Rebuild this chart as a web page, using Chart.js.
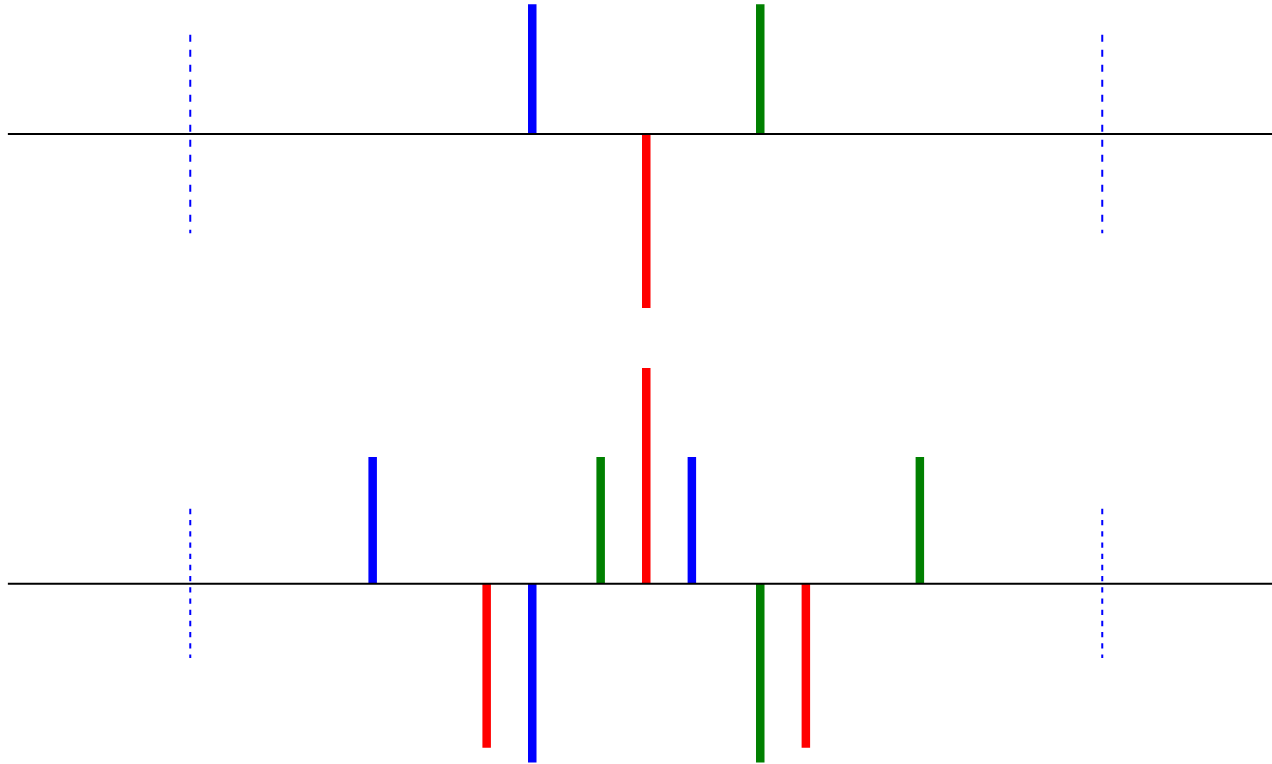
<!DOCTYPE html>
<html>
<head>
<meta charset="utf-8">
<script src="https://cdn.jsdelivr.net/npm/chart.js@4/dist/chart.umd.min.js"></script>
<style>
  html, body { margin: 0; padding: 0; background: #fff; }
  #wrap { position: relative; width: 1272px; height: 764px; overflow: hidden; }
  canvas { position: absolute; left: 0; }
  #topChart { top: 0; }
  #bottomChart { top: 340px; }
</style>
</head>
<body>
<div id="wrap">
  <canvas id="topChart" width="1272" height="340"></canvas>
  <canvas id="bottomChart" width="1272" height="424"></canvas>
</div>
<script>
// --- DATA (stem positions and heights) ---
const topBlueX = [-1];
const topBlueY = [2.98];
const topRedX = [0];
const topRedY = [-4.0];
const topGreenX = [1];
const topGreenY = [2.98];

const bottomBlueX = [-2.4, -1, 0.4];
const bottomBlueY = [2.91, -4.11, 2.91];
const bottomRedX = [-1.4, 0, 1.4];
const bottomRedY = [-3.77, 4.96, -3.77];
const bottomGreenX = [-0.4, 1, 2.4];
const bottomGreenY = [2.91, -4.11, 2.91];

// dashed marker lines and how far they reach above / below the baseline
const markerX = [-4, 4];
const topMarkerReach = [2.28, -2.28];
const bottomMarkerReach = [1.72, -1.71];

// baseline extent
const baselineX = [-5.6, 5.6];

// --- THEME ---
const COLORS = {
    blue: '#0000ff',
    red: '#ff0000',
    green: '#008000',
    black: '#000000'
};

// stems joined into one dataset per colour, split by null gaps
function stemPoints(xs, ys) {
    const pts = [];
    xs.forEach((x, i) => {
        pts.push({ x: x, y: 0 }, { x: x, y: ys[i] }, { x: x, y: null });
    });
    return pts;
}

function markerPoints(xs, reach) {
    const pts = [];
    xs.forEach(x => {
        pts.push({ x: x, y: reach[0] }, { x: x, y: reach[1] }, { x: x, y: null });
    });
    return pts;
}

function stemSet(xs, ys, color) {
    return {
        data: stemPoints(xs, ys),
        borderColor: color,
        borderWidth: 8.5,
        borderCapStyle: 'butt',
        pointRadius: 0,
        showLine: true,
        spanGaps: false,
        order: 2
    };
}

function makeChart(ctx, stems, reach, dash, yMin, yMax) {
    const datasets = [
        {
            data: markerPoints(markerX, reach),
            borderColor: COLORS.blue,
            borderWidth: 2,
            borderDash: dash,
            pointRadius: 0,
            showLine: true,
            spanGaps: false,
            order: 0
        },
        {
            data: baselineX.map(x => ({ x: x, y: 0 })),
            borderColor: COLORS.black,
            borderWidth: 2,
            pointRadius: 0,
            showLine: true,
            order: 1
        }
    ].concat(stems);

    return new Chart(ctx, {
        type: 'scatter',
        data: { datasets: datasets },
        options: {
            responsive: false,
            animation: false,
            devicePixelRatio: 1,
            layout: { padding: 0 },
            scales: {
                x: { type: 'linear', display: false, min: -5.669, max: 5.489 },
                y: { type: 'linear', display: false, min: yMin, max: yMax }
            },
            plugins: { legend: { display: false }, tooltip: { enabled: false } }
        }
    });
}

makeChart(
    document.getElementById('topChart').getContext('2d'),
    [
        stemSet(topBlueX, topBlueY, COLORS.blue),
        stemSet(topRedX, topRedY, COLORS.red),
        stemSet(topGreenX, topGreenY, COLORS.green)
    ],
    topMarkerReach, [7, 8], -4.736, 3.08
);

makeChart(
    document.getElementById('bottomChart').getContext('2d'),
    [
        stemSet(bottomBlueX, bottomBlueY, COLORS.blue),
        stemSet(bottomRedX, bottomRedY, COLORS.red),
        stemSet(bottomGreenX, bottomGreenY, COLORS.green)
    ],
    bottomMarkerReach, [5.3, 5.9], -4.145, 5.602
);
</script>
</body>
</html>
